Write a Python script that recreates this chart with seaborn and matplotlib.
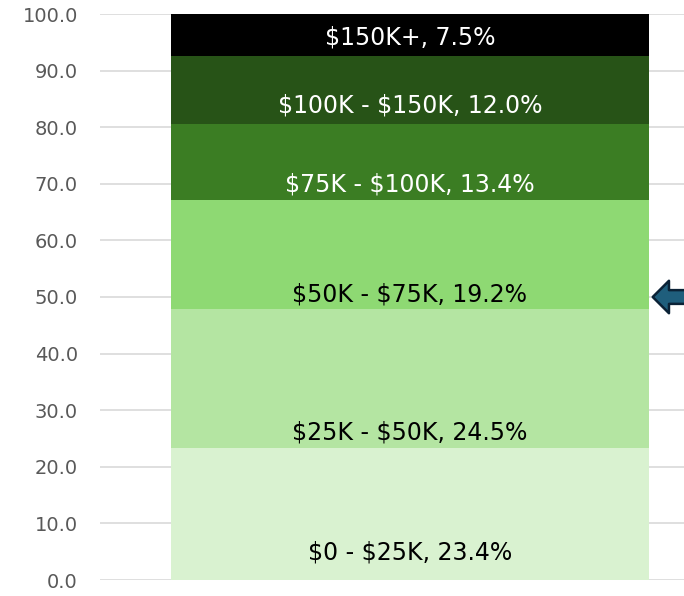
import matplotlib
matplotlib.use("Agg")
import matplotlib.pyplot as plt
import seaborn as sns
import numpy as np

# ---- data ----
categories = ["$0 - $25K", "$25K - $50K", "$50K - $75K", "$75K - $100K", "$100K - $150K", "$150K+"]
shares = [23.4, 24.5, 19.2, 13.4, 12.0, 7.5]
label_text = ["$0 - $25K, 23.4%", "$25K - $50K, 24.5%", "$50K - $75K, 19.2%",
              "$75K - $100K, 13.4%", "$100K - $150K, 12.0%", "$150K+, 7.5%"]
tick_values = [0, 10, 20, 30, 40, 50, 60, 70, 80, 90, 100]
arrow_value = 50.0

# ---- styling ----
colors = ["#d9f2d0", "#b4e5a2", "#8ed973", "#3b7d23", "#275317", "#000000"]
text_colors = ["black", "black", "black", "white", "white", "white"]
label_offsets = [4.8, 2.7, 2.5, 2.7, 3.4, 3.3]

sns.set_theme(style="white")
plt.rcParams['font.family'] = ['DejaVu Sans']
plt.rcParams['text.parse_math'] = False

fig = plt.figure(figsize=(6.84, 5.96), dpi=100)
ax = fig.add_axes([100 / 684, 16 / 596, 620 / 684, 566 / 596])

tops = np.cumsum(shares)
bottoms = tops - np.array(shares)
bar_w = 0.77

# draw cumulative bars from largest to smallest so they stack visually
for i in range(len(shares) - 1, -1, -1):
    sns.barplot(x=[""], y=[tops[i]], color=colors[i], saturation=1,
                width=bar_w, ax=ax, edgecolor="none", linewidth=0, zorder=2)

for i, txt in enumerate(label_text):
    ax.text(0, bottoms[i] + label_offsets[i], txt, ha="center", va="center",
            fontsize=17, color=text_colors[i], zorder=5)

ax.set_ylim(0, 100)
ax.set_xlim(-0.5, 0.5)
ax.set_yticks(tick_values)
ax.set_yticklabels([f"{v:.1f}" for v in tick_values], fontsize=14, color="#595959")
ax.tick_params(axis="y", length=0, pad=16)
ax.set_xticks([])
ax.set_xlabel("")
ax.set_ylabel("")
ax.yaxis.grid(True, color="#d9d9d9", linewidth=1.2, zorder=0)
ax.set_axisbelow(True)
for s in ax.spines.values():
    s.set_visible(False)

# arrow pointing at the bar edge
bar_right = bar_w / 2
ax.annotate("", xy=(bar_right + 0.002, arrow_value), xytext=(bar_right + 0.09, arrow_value),
            arrowprops=dict(arrowstyle="simple,tail_width=0.55,head_width=1.3,head_length=0.65",
                            fc="#1f5e7c", ec="#0b2236", lw=1.8, mutation_scale=18),
            annotation_clip=False, zorder=6)

fig.savefig("out.png", dpi=100)
